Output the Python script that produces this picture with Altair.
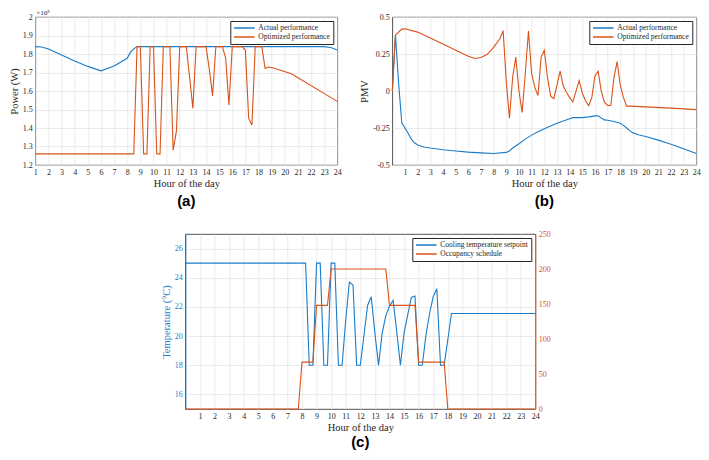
import altair as alt
import pandas as pd

BLUE = "#1a7cc8"
ORANGE = "#D95319"
INK = "#262626"
GRID = "#e2e2e2"
SERIF = "Liberation Serif"
SANS = "Liberation Sans"

# ---------------- (a) Power ----------------
a_actual_h = [1, 1.5, 2, 3, 4, 5, 6, 7, 8, 8.25, 8.5, 8.75, 23, 23.5, 24]
a_actual_v = [1.84, 1.838, 1.827, 1.794, 1.762, 1.733, 1.709, 1.735, 1.777, 1.81, 1.828, 1.84, 1.84, 1.835, 1.822]
a_opt_h = [1, 8.5, 8.75, 9.0, 9.25, 9.5, 9.75, 10.0, 10.25, 10.5, 10.75, 11.25, 11.5, 11.75,
           12.0, 12.5, 12.75, 13.0, 13.25, 14.0, 14.25, 14.5, 14.75, 15.25, 15.5, 15.75, 16.0,
           16.75, 17.0, 17.25, 17.5, 17.75, 18.25, 18.5, 18.75, 19.0, 20.5, 24]
a_opt_v = [1.26, 1.26, 1.84, 1.84, 1.26, 1.26, 1.84, 1.84, 1.26, 1.26, 1.84, 1.84, 1.28, 1.385,
           1.84, 1.84, 1.675, 1.507, 1.84, 1.84, 1.72, 1.574, 1.84, 1.84, 1.776, 1.523, 1.84,
           1.84, 1.82, 1.452, 1.416, 1.84, 1.84, 1.722, 1.73, 1.727, 1.693, 1.544]
a_ticks = [1.2, 1.3, 1.4, 1.5, 1.6, 1.7, 1.8, 1.9, 2.0]

# ---------------- (b) PMV ----------------
b_actual_h = [0, 0.25, 0.5, 0.75, 1.0, 1.25, 1.5, 1.75, 2.0, 2.5, 3, 4, 5, 6, 7, 8, 9, 9.25, 9.5,
              10, 10.5, 11, 11.5, 12, 13, 14, 14.25, 15, 15.5, 16, 16.25, 16.5, 16.75, 17, 17.5,
              18, 18.25, 18.5, 18.75, 19, 19.5, 20, 21, 22, 23, 24]
b_actual_v = [0.0, 0.378, 0.05, -0.215, -0.25, -0.285, -0.325, -0.35, -0.365, -0.378, -0.385,
              -0.397, -0.405, -0.413, -0.418, -0.422, -0.415, -0.405, -0.385, -0.356, -0.325,
              -0.298, -0.275, -0.255, -0.218, -0.187, -0.18, -0.18, -0.175, -0.168, -0.167,
              -0.183, -0.195, -0.198, -0.206, -0.218, -0.232, -0.25, -0.268, -0.283, -0.297,
              -0.307, -0.332, -0.36, -0.39, -0.422]
b_opt_h = [0, 0.25, 0.75, 1.0, 2, 3, 4, 5, 6, 6.5, 7, 7.5, 8, 8.5, 8.75, 9.0, 9.25, 9.5, 9.75,
           10.0, 10.25, 10.5, 10.75, 11.0, 11.25, 11.5, 11.75, 12.0, 12.25, 12.5, 12.75, 13.0,
           13.25, 13.5, 13.75, 14.0, 14.25, 14.5, 14.75, 15.0, 15.25, 15.5, 15.75, 16.0, 16.25,
           16.5, 16.75, 17.0, 17.25, 17.5, 17.75, 18.0, 18.25, 18.5, 18.75, 20, 22, 24]
b_opt_v = [0.0, 0.378, 0.418, 0.42, 0.398, 0.358, 0.318, 0.275, 0.235, 0.22, 0.226, 0.248,
           0.295, 0.355, 0.408, 0.06, -0.183, 0.092, 0.229, 0.0, -0.145, 0.12, 0.405, 0.118,
           0.024, -0.03, 0.229, 0.276, 0.092, -0.035, -0.052, 0.039, 0.134, 0.033, -0.009,
           -0.045, -0.073, -0.003, 0.071, -0.014, -0.066, -0.098, -0.045, 0.102, 0.134, -0.003,
           -0.077, -0.098, -0.098, 0.092, 0.198, 0.039, -0.045, -0.102, -0.102, -0.107, -0.116,
           -0.126]
b_ticks = [-0.5, -0.25, 0, 0.25, 0.5]

# ---------------- (c) Setpoint & occupancy ----------------
c_set_h = [0, 8.25, 8.5, 8.75, 9.0, 9.25, 9.5, 9.75, 10.0, 10.25, 10.5, 10.75, 11.0, 11.25, 11.5,
           11.75, 12.0, 12.25, 12.5, 12.75, 13.0, 13.25, 13.5, 13.75, 14.0, 14.25, 14.5, 14.75,
           15.0, 15.25, 15.5, 15.75, 16.0, 16.25, 16.5, 16.75, 17.0, 17.25, 17.5, 17.75, 18.0,
           18.25, 24]
c_set_v = [25, 25, 18, 18, 25, 25, 18, 18, 25, 25, 18, 18, 21.1, 23.7, 23.5, 18, 18, 20.05,
           22.1, 22.7, 20.2, 18, 20.2, 21.4, 22.05, 22.45, 20.3, 18, 20.2, 21.45, 22.65, 22.75,
           18, 18, 20.05, 21.55, 22.7, 23.25, 18, 18, 19.75, 21.55, 21.55]
c_occ_h = [0, 7.75, 8.0, 8.75, 9.0, 9.75, 10.0, 13.75, 14.0, 15.75, 16.0, 17.75, 18.0, 24]
c_occ_v = [0, 0, 67, 67, 148, 148, 200, 200, 148, 148, 67, 67, 0, 0]
c_left_ticks = [16, 18, 20, 22, 24, 26]
c_right_ticks = [0, 50, 100, 150, 200, 250]

hours = list(range(1, 25))


def frame(h, v, name):
    return pd.DataFrame({"hour": h, "val": v, "series": name})


def xaxis():
    return alt.Axis(title="Hour of the day", values=hours, format="d", labelFont=SERIF,
                    labelFontSize=8, labelColor=INK, titleFont=SERIF, titleFontSize=10.5,
                    titleFontWeight="normal", titleColor=INK, ticks=False, domain=False,
                    grid=True, gridColor=GRID, gridWidth=0.7, labelPadding=3, titlePadding=2,
                    labelFlush=False)


def legend():
    return alt.Legend(title=None, orient="top-right", offset=4, fillColor="white",
                      strokeColor=INK, padding=3, labelFont=SERIF, labelFontSize=7.5,
                      labelColor=INK, symbolType="stroke", symbolSize=420,
                      symbolStrokeWidth=1.3, rowPadding=1, labelOffset=3, cornerRadius=0,
                      clipHeight=8)


def ptitle(t, off):
    return alt.TitleParams(t, orient="bottom", font=SANS, fontSize=15, fontWeight="bold",
                           anchor="middle", frame="group", offset=off, color="black")


# ---- panel a ----
df_a = pd.concat([frame(a_actual_h, a_actual_v, "Actual performance"),
                  frame(a_opt_h, a_opt_v, "Optimized performance")])
col_ab = alt.Color("series:N",
                   scale=alt.Scale(domain=["Actual performance", "Optimized performance"],
                                   range=[BLUE, ORANGE]),
                   legend=legend())
lines_a = alt.Chart(df_a).mark_line(strokeWidth=1.1).encode(
    x=alt.X("hour:Q", scale=alt.Scale(domain=[1, 24], nice=False, zero=False), axis=xaxis()),
    y=alt.Y("val:Q", scale=alt.Scale(domain=[1.2, 2.0], nice=False, zero=False),
            axis=alt.Axis(title="Power (W)", values=a_ticks, format=".1~f", labelFont=SERIF,
                          labelFontSize=8, labelColor=INK, titleFont=SERIF, titleFontSize=10.5,
                          titleFontWeight="normal", titleColor=INK, ticks=False, domain=False,
                          grid=True, gridColor=GRID, gridWidth=0.7, labelPadding=3,
                          titlePadding=3)),
    color=col_ab,
)
exp_a = alt.Chart(pd.DataFrame({"t": ["×10⁵"]})).mark_text(
    font=SERIF, fontSize=7, align="left", baseline="bottom", color=INK
).encode(x=alt.value(1), y=alt.value(-1), text="t:N")
panel_a = alt.layer(lines_a, exp_a).properties(width=302, height=148, title=ptitle("(a)", 5))

# ---- panel b ----
df_b = pd.concat([frame(b_actual_h, b_actual_v, "Actual performance"),
                  frame(b_opt_h, b_opt_v, "Optimized performance")])
panel_b = alt.Chart(df_b).mark_line(strokeWidth=1.1).encode(
    x=alt.X("hour:Q", scale=alt.Scale(domain=[0, 24], nice=False, zero=False), axis=xaxis()),
    y=alt.Y("val:Q", scale=alt.Scale(domain=[-0.5, 0.5], nice=False, zero=False),
            axis=alt.Axis(title="PMV", values=b_ticks,
                          labelExpr="datum.value < 0 ? '-' + format(-datum.value, '~g') : format(datum.value, '~g')",
                          labelFont=SERIF, labelFontSize=8, labelColor=INK, titleFont=SERIF,
                          titleFontSize=10.5, titleFontWeight="normal", titleColor=INK,
                          ticks=False, domain=False, grid=True, gridColor=GRID, gridWidth=0.7,
                          labelPadding=3, titlePadding=3)),
    color=col_ab,
).properties(width=304, height=148, title=ptitle("(b)", 5))

# ---- panel c ----
col_c = alt.Color("series:N",
                  scale=alt.Scale(domain=["Cooling temperature setpoint", "Occupancy schedule"],
                                  range=[BLUE, ORANGE]),
                  legend=legend())
xc = alt.X("hour:Q", scale=alt.Scale(domain=[0, 24], nice=False, zero=False), axis=xaxis())
left_c = alt.Chart(frame(c_set_h, c_set_v, "Cooling temperature setpoint")).mark_line(
    strokeWidth=1.1).encode(
    x=xc,
    y=alt.Y("val:Q", scale=alt.Scale(domain=[15, 27], nice=False, zero=False),
            axis=alt.Axis(orient="left", title="Temperature (°C)", values=c_left_ticks,
                          labelFont=SERIF, labelFontSize=8, labelColor=BLUE, titleFont=SERIF,
                          titleFontSize=10.5, titleFontWeight="normal", titleColor=BLUE,
                          ticks=False, domain=True, domainColor=BLUE, domainWidth=1,
                          grid=True, gridColor=GRID, gridWidth=0.7, labelPadding=3,
                          titlePadding=3)),
    color=col_c,
)
right_c = alt.Chart(frame(c_occ_h, c_occ_v, "Occupancy schedule")).mark_line(
    strokeWidth=1.1).encode(
    x=xc,
    y=alt.Y("val:Q", scale=alt.Scale(domain=[0, 250], nice=False, zero=False),
            axis=alt.Axis(orient="right", title="", values=c_right_ticks, labelFont=SERIF,
                          labelFontSize=8, labelColor=ORANGE, ticks=False, domain=True,
                          domainColor=ORANGE, domainWidth=1, grid=False, labelPadding=3)),
    color=col_c,
)
panel_c = alt.layer(left_c, right_c).resolve_scale(y="independent").properties(
    width=350, height=175, title=ptitle("(c)", 2))

top = alt.hconcat(panel_a, panel_b, spacing=16).resolve_scale(
    x="independent", y="independent", color="independent").resolve_legend(color="independent")

chart = alt.vconcat(top, panel_c, spacing=20, center=True).resolve_scale(
    x="independent", y="independent", color="independent").resolve_legend(
    color="independent").properties(
    padding={"left": 0, "top": 0, "right": 0, "bottom": 0}, background="white"
).configure_view(stroke=INK, strokeWidth=0.8)

chart.save("out.html", embed_options={"renderer": "svg", "actions": False})
